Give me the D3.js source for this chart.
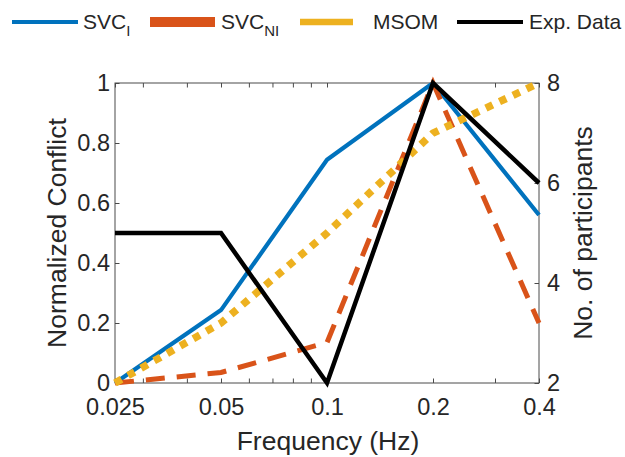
<!DOCTYPE html>
<html>
<head>
<meta charset="utf-8">
<script src="https://cdn.jsdelivr.net/npm/d3@7"></script>
<style>
  html, body { margin: 0; padding: 0; background: #fff; }
  svg { display: block; }
  text { font-family: "Liberation Sans", Arial, Helvetica, sans-serif; fill: #262626; }
</style>
</head>
<body>
<svg id="chart" width="625" height="457"></svg>
<script>
// ---- data ----
const frequencies = [0.025, 0.05, 0.1, 0.2, 0.4];
const svcI = [0, 0.243, 0.744, 1.0, 0.56];
const svcNI = [0, 0.035, 0.135, 1.0, 0.2];
const msom = [0, 0.2, 0.5, 0.833, 1.0];
const expData = [5, 5, 2, 8, 6];
const xTickValues = [0.025, 0.05, 0.1, 0.2, 0.4];
const xTickLabels = ["0.025", "0.05", "0.1", "0.2", "0.4"];
const xMinorTicks = [0.03, 0.04, 0.06, 0.07, 0.08, 0.09, 0.3];
const yLeftTicks = [0, 0.2, 0.4, 0.6, 0.8, 1];
const yLeftLabels = ["0", "0.2", "0.4", "0.6", "0.8", "1"];
const yRightTicks = [2, 4, 6, 8];
const yRightLabels = ["2", "4", "6", "8"];
const legendNames = ["SVC", "SVC", "MSOM", "Exp. Data"];
const legendSubs = ["I", "NI", "", ""];

// ---- layout ----
const L = 115, R = 539, T = 83, B = 383;
const svg = d3.select("#chart");

const x = d3.scaleLog().domain([0.025, 0.4]).range([L, R]);
const yL = d3.scaleLinear().domain([0, 1]).range([B, T]);
const yR = d3.scaleLinear().domain([2, 8]).range([B, T]);

const axisColor = "#4a4a4a";
const tickFont = "23.5px";
const tickLen = 4.5;

function styleAxis(g) {
  g.select(".domain").remove();
  g.selectAll(".tick line").attr("stroke", axisColor).attr("stroke-width", 1);
  g.selectAll(".tick text").style("font-size", tickFont).attr("fill", "#262626")
    .style("font-family", '"Liberation Sans", Arial, sans-serif');
}

// Axes (inward ticks)
svg.append("g").attr("transform", `translate(0,${B})`)
  .call(d3.axisBottom(x).tickValues(xTickValues)
    .tickFormat((d, i) => xTickLabels[i]).tickSize(-tickLen).tickPadding(15))
  .call(styleAxis);
svg.append("g").attr("transform", `translate(0,${B})`)
  .call(d3.axisBottom(x).tickValues(xMinorTicks).tickFormat("").tickSize(-tickLen))
  .call(styleAxis);
svg.append("g").attr("transform", `translate(0,${T})`)
  .call(d3.axisTop(x).tickValues(xTickValues.concat(xMinorTicks)).tickFormat("").tickSize(-tickLen))
  .call(styleAxis);
svg.append("g").attr("transform", `translate(${L},0)`)
  .call(d3.axisLeft(yL).tickValues(yLeftTicks)
    .tickFormat((d, i) => yLeftLabels[i]).tickSize(-tickLen).tickPadding(5))
  .call(styleAxis);
svg.append("g").attr("transform", `translate(${R},0)`)
  .call(d3.axisRight(yR).tickValues(yRightTicks)
    .tickFormat((d, i) => yRightLabels[i]).tickSize(-tickLen).tickPadding(8))
  .call(styleAxis);

// box
svg.append("rect").attr("x", L).attr("y", T).attr("width", R - L).attr("height", B - T)
  .attr("fill", "none").attr("stroke", axisColor).attr("stroke-width", 1);

// ---- series ----
const lineL = d3.line().x((d, i) => x(frequencies[i])).y(d => yL(d));
const lineR = d3.line().x((d, i) => x(frequencies[i])).y(d => yR(d));

const blue = "#0072BD", orange = "#D95319", yellow = "#EDB120", black = "#000000";

svg.append("path").datum(svcI).attr("d", lineL)
  .attr("fill", "none").attr("stroke", blue).attr("stroke-width", 4.2)
  .attr("stroke-linejoin", "round");
svg.append("path").datum(svcNI).attr("d", lineL)
  .attr("fill", "none").attr("stroke", orange).attr("stroke-width", 5)
  .attr("stroke-dasharray", "19,12");
svg.append("path").datum(msom).attr("d", lineL)
  .attr("fill", "none").attr("stroke", yellow).attr("stroke-width", 7.5)
  .attr("stroke-dasharray", "7.5,7.5");
svg.append("path").datum(expData).attr("d", lineR)
  .attr("fill", "none").attr("stroke", black).attr("stroke-width", 4.5)
  .attr("stroke-linejoin", "miter").attr("stroke-miterlimit", 10);

// ---- axis labels ----
svg.append("text").attr("x", (L + R) / 2 + 1).attr("y", 450)
  .attr("text-anchor", "middle").style("font-size", "26.5px").text("Frequency (Hz)");
svg.append("text").attr("transform", `translate(66,${(T + B) / 2}) rotate(-90)`)
  .attr("text-anchor", "middle").style("font-size", "26.5px").text("Normalized Conflict");
svg.append("text").attr("transform", `translate(592,${(T + B) / 2}) rotate(-90)`)
  .attr("text-anchor", "middle").style("font-size", "26.5px").text("No. of participants");

// ---- legend ----
const legendItems = [
  { x1: 12, x2: 78, color: blue, w: 4, tx: 83 },
  { x1: 150, x2: 215, color: orange, w: 10, tx: 221 },
  { x1: 300, x2: 353, color: yellow, w: 6.5, tx: 373 },
  { x1: 457, x2: 523, color: black, w: 4, tx: 529 }
];
const lg = svg.append("g");
legendItems.forEach((it, i) => {
  lg.append("line").attr("x1", it.x1).attr("x2", it.x2).attr("y1", 22).attr("y2", 22)
    .attr("stroke", it.color).attr("stroke-width", it.w);
  const t = lg.append("text").attr("x", it.tx).attr("y", 29).style("font-size", "21px");
  t.append("tspan").text(legendNames[i]);
  if (legendSubs[i]) {
    t.append("tspan").attr("dy", 7).style("font-size", "15px").text(legendSubs[i]);
  }
});
</script>
</body>
</html>
